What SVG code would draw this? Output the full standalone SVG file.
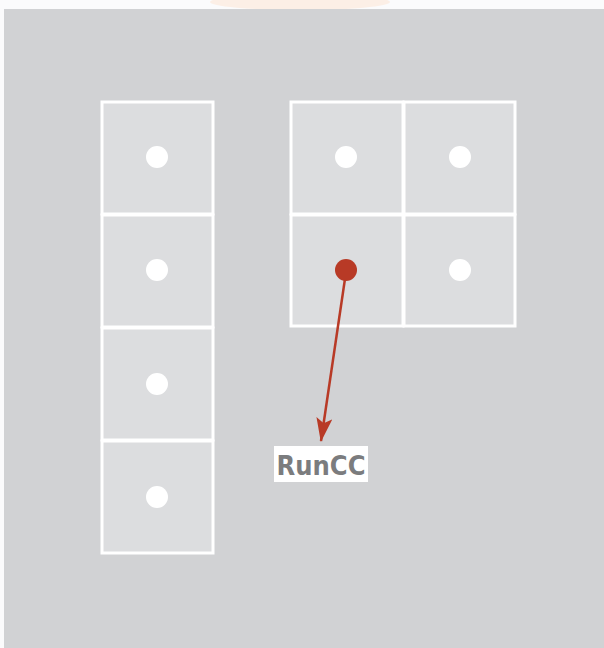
<svg xmlns="http://www.w3.org/2000/svg" width="604" height="648" viewBox="0 0 604 648">
<defs>
<style>
.cell{fill:#dcdddf;stroke:#ffffff;stroke-width:3}
.dot{fill:#ffffff}
.label{font-family:"DejaVu Sans Condensed","DejaVu Sans",sans-serif;font-weight:bold;font-size:27px;fill:#7b7c7e}
</style>
<marker id="arr" viewBox="0 0 24 16" refX="23" refY="8" markerWidth="24" markerHeight="16" orient="auto" markerUnits="userSpaceOnUse">
<path d="M0,0 L24,8 L0,16 L5,8 z" fill="#b83a26"/>
</marker>
</defs>
<rect x="0" y="0" width="604" height="648" fill="#fbfbfc"/>
<ellipse cx="300" cy="2" rx="90" ry="8" fill="#fcefe6"/>
<rect x="4" y="9" width="600" height="639" fill="#d1d2d4"/>
<g id="col-1"><rect class="cell" x="102" y="102" width="111" height="112"/><circle class="dot" cx="157" cy="157" r="11"/></g>
<g id="col-2"><rect class="cell" x="102" y="215" width="111" height="112"/><circle class="dot" cx="157" cy="270" r="11"/></g>
<g id="col-3"><rect class="cell" x="102" y="328" width="111" height="112"/><circle class="dot" cx="157" cy="384" r="11"/></g>
<g id="col-4"><rect class="cell" x="102" y="441" width="111" height="112"/><circle class="dot" cx="157" cy="497" r="11"/></g>
<g id="grid-1"><rect class="cell" x="291" y="102" width="112" height="112"/><circle class="dot" cx="346" cy="157" r="11"/></g>
<g id="grid-2"><rect class="cell" x="404" y="102" width="111" height="112"/><circle class="dot" cx="460" cy="157" r="11"/></g>
<g id="grid-3"><rect class="cell" x="291" y="215" width="112" height="111"/></g>
<g id="grid-4"><rect class="cell" x="404" y="215" width="111" height="111"/><circle class="dot" cx="460" cy="270" r="11"/></g>
<g id="connectors">
<line x1="346" y1="272" x2="321" y2="441" stroke="#b83a26" stroke-width="2.5" marker-end="url(#arr)"/>
</g>
<g id="red-dot"><circle cx="346" cy="270" r="11" fill="#b83a26"/></g>
<g id="label"><rect x="274" y="446" width="94" height="36" fill="#ffffff"/><text class="label" x="321" y="475" text-anchor="middle">RunCC</text></g>
</svg>
